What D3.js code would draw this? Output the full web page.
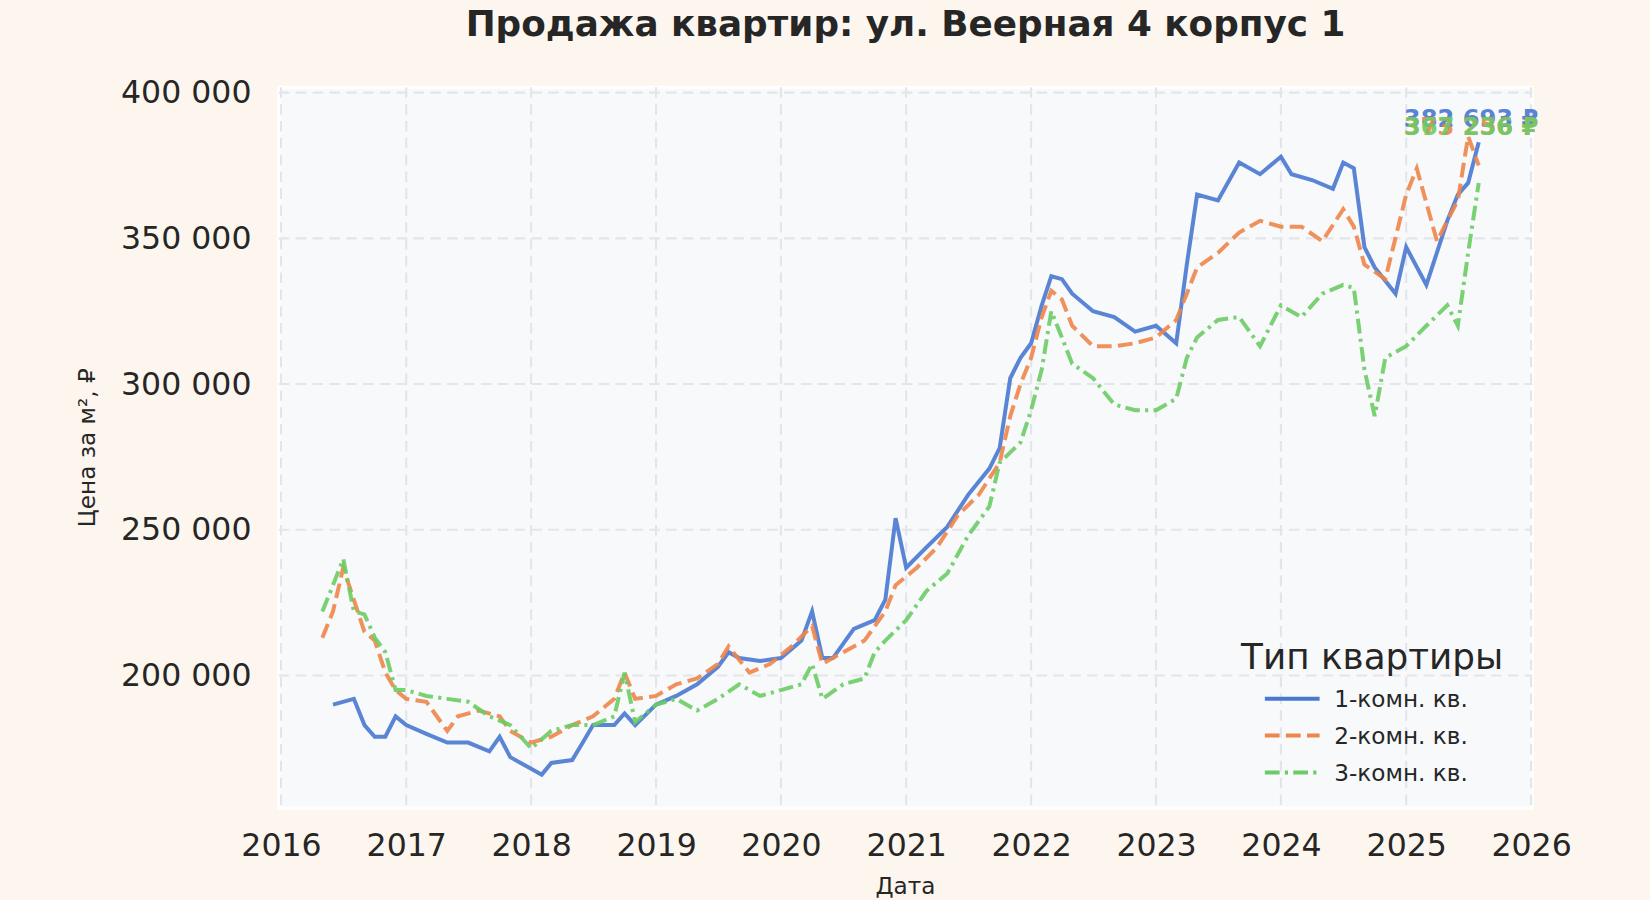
<!DOCTYPE html>
<html><head><meta charset="utf-8">
<script src="https://cdn.jsdelivr.net/npm/d3@7"></script>
<style>
body{margin:0;background:#fdf6ee;font-family:"DejaVu Sans",sans-serif;}
</style></head>
<body><div id="chart"></div>
<script>
// data, prices in thousands of rubles per m2
const dates1 = ["2016-06","2016-08","2016-09","2016-10","2016-11","2016-12","2017-01","2017-03","2017-05","2017-07","2017-09","2017-10","2017-11","2018-01","2018-02","2018-03","2018-05","2018-06","2018-07","2018-09","2018-10","2018-11","2019-01","2019-03","2019-05","2019-07","2019-08","2019-09","2019-11","2020-01","2020-03","2020-04","2020-05","2020-06","2020-08","2020-10","2020-11","2020-12","2021-01","2021-03","2021-05","2021-07","2021-09","2021-10","2021-11","2021-12","2022-01","2022-02","2022-03","2022-04","2022-05","2022-07","2022-09","2022-11","2023-01","2023-03","2023-04","2023-05","2023-07","2023-09","2023-11","2024-01","2024-02","2024-04","2024-06","2024-07","2024-08","2024-09","2024-10","2024-12","2025-01","2025-03","2025-05","2025-06","2025-07","2025-08"];
const values1 = [190,192,183,179,179,186,183,180,177,177,174,179,172,168,166,170,171,177,183,183,187,183,190,193,197,203,208,206,205,206,212,222,206,206,216,219,226,254,237,244,251,262,271,278,302,309,314,327,337,336,331,325,323,318,320,314,341,365,363,376,372,378,372,370,367,376,374,347,340,331,347,334,356,365,369,383];

const dates2 = ["2016-05","2016-06","2016-07","2016-08","2016-09","2016-10","2016-11","2016-12","2017-01","2017-03","2017-05","2017-06","2017-08","2017-10","2017-11","2018-01","2018-03","2018-05","2018-07","2018-09","2018-10","2018-11","2019-01","2019-03","2019-05","2019-07","2019-08","2019-10","2019-12","2020-02","2020-04","2020-05","2020-07","2020-09","2020-11","2020-12","2021-02","2021-04","2021-06","2021-08","2021-10","2021-11","2021-12","2022-01","2022-02","2022-03","2022-04","2022-05","2022-07","2022-09","2022-11","2023-01","2023-03","2023-04","2023-05","2023-07","2023-09","2023-11","2024-01","2024-03","2024-05","2024-07","2024-08","2024-09","2024-11","2025-01","2025-02","2025-04","2025-05","2025-06","2025-07","2025-08"];
const values2 = [213,222,237,226,215,212,201,195,192,191,181,186,188,186,181,177,179,183,186,192,201,192,193,197,199,204,210,201,204,210,217,204,208,212,222,231,237,244,255,262,273,289,300,309,323,332,329,320,313,313,314,316,322,331,340,345,352,356,354,354,349,360,354,341,336,365,374,349,356,363,385,375];

const dates3 = ["2016-05","2016-06","2016-07","2016-08","2016-09","2016-10","2016-11","2016-12","2017-01","2017-03","2017-05","2017-07","2017-09","2017-11","2018-01","2018-03","2018-05","2018-07","2018-09","2018-10","2018-11","2019-01","2019-03","2019-05","2019-07","2019-09","2019-11","2020-01","2020-03","2020-04","2020-05","2020-07","2020-09","2020-10","2020-11","2021-01","2021-03","2021-05","2021-07","2021-09","2021-10","2021-12","2022-01","2022-02","2022-03","2022-04","2022-05","2022-07","2022-09","2022-11","2023-01","2023-03","2023-04","2023-05","2023-07","2023-09","2023-11","2024-01","2024-03","2024-05","2024-07","2024-08","2024-09","2024-10","2024-11","2025-01","2025-03","2025-05","2025-06","2025-07","2025-08"];
const values3 = [222,231,240,222,221,213,208,195,195,193,192,191,186,183,175,181,183,183,186,201,184,190,192,188,192,197,193,195,197,204,192,197,199,208,212,219,229,235,248,258,273,280,291,305,325,316,307,302,293,291,291,295,309,316,322,323,313,327,323,331,334,333,305,289,309,313,320,327,320,345,369];

const seriesNames = ["1-комн. кв.","2-комн. кв.","3-комн. кв."];
const endLabels = ["382 693 ₽","373 256 ₽","367 236 ₽"];
const yTicks = [200000,250000,300000,350000,400000];

const colors = ["#4878d0","#ee854a","#6acc64"];
const dashes = [null,"14,6","14,5,3,5"];

// layout measured on a 1568-wide view, scaled up to 1650
const k = 1650/1568;
const W = 1568, H = 855;
const m = {left:265, right:112, top:83, bottom:87};
const svg = d3.select("#chart").append("svg").attr("width",1650).attr("height",900)
  .append("g").attr("transform","scale("+k+")");

const parse = d3.timeParse("%Y-%m");
const series = [[dates1,values1],[dates2,values2],[dates3,values3]].map(function(s){
  return s[0].map((d,i) => ({date: parse(d), v: s[1][i]*1000}));
});

const x = d3.scaleTime().domain([new Date(2016,0,1), new Date(2026,0,1)]).range([m.left+2, W-m.right-1]);
const y = d3.scaleLinear().domain([154500, 401800]).range([H-m.bottom, m.top]);

// plot background
svg.append("rect").attr("x",m.left).attr("y",m.top)
  .attr("width",W-m.left-m.right).attr("height",H-m.top-m.bottom)
  .attr("fill","#f8f9fb").attr("stroke","#ffffff").attr("stroke-width",3);

const fmt = v => d3.format(",")(v).replace(/,/g," ");
const years = d3.range(2016,2027).map(yr => new Date(yr,0,1));

// grid
svg.append("g").selectAll("line").data(years).enter().append("line")
  .attr("x1",d=>x(d)).attr("x2",d=>x(d)).attr("y1",m.top).attr("y2",H-m.bottom)
  .attr("stroke","#e3e5ea").attr("stroke-width",2).attr("stroke-dasharray","10,6");
svg.append("g").selectAll("line").data(yTicks).enter().append("line")
  .attr("x1",m.left).attr("x2",W-m.right).attr("y1",d=>y(d)).attr("y2",d=>y(d))
  .attr("stroke","#e3e5ea").attr("stroke-width",2).attr("stroke-dasharray","10,6");

// axes
const xAxis = svg.append("g").attr("transform","translate(0,"+(H-m.bottom)+")")
  .call(d3.axisBottom(x).tickValues(years).tickFormat(d3.timeFormat("%Y")).tickSize(0).tickPadding(24));
const yAxis = svg.append("g").attr("transform","translate("+m.left+",0)")
  .call(d3.axisLeft(y).tickValues(yTicks).tickFormat(fmt).tickSize(0).tickPadding(26));
[xAxis,yAxis].forEach(function(a){
  a.select(".domain").remove();
  a.selectAll("text").attr("font-size",30).attr("fill","#262626").attr("font-family","DejaVu Sans");
});

// lines
const line = d3.line().x(d=>x(d.date)).y(d=>y(d.v));
series.forEach(function(s,i){
  svg.append("path").datum(s).attr("d",line).attr("fill","none")
    .attr("stroke",colors[i]).attr("stroke-width",3.8).attr("stroke-opacity",0.9)
    .attr("stroke-dasharray",dashes[i]);
});

// end labels (overlapping, as in the source chart)
[0,1,2].forEach(function(i){
  svg.append("text").attr("x",W-m.right+6).attr("y", i==0 ? 121 : 128)
    .attr("text-anchor","end").attr("font-size",23).attr("font-weight","bold")
    .attr("fill",colors[i]).attr("opacity",0.9).text(endLabels[i]);
});

// titles
svg.append("text").attr("x",(m.left+W-m.right)/2).attr("y",34).attr("text-anchor","middle")
  .attr("font-size",34).attr("font-weight","bold").attr("fill","#262626")
  .text("Продажа квартир: ул. Веерная 4 корпус 1");
svg.append("text").attr("x",(m.left+W-m.right)/2).attr("y",850).attr("text-anchor","middle")
  .attr("font-size",22).attr("fill","#262626").text("Дата");
svg.append("text").attr("transform","translate(90,"+((m.top+H-m.bottom)/2)+") rotate(-90)")
  .attr("text-anchor","middle").attr("font-size",22).attr("fill","#262626").text("Цена за м², ₽");

// legend
const lg = svg.append("g").attr("transform","translate(1200,0)");
lg.append("text").attr("x",104).attr("y",636).attr("text-anchor","middle")
  .attr("font-size",34).attr("fill","#262626").text("Тип квартиры");
seriesNames.forEach(function(n,i){
  const yy = 664 + i*35;
  lg.append("line").attr("x1",2).attr("x2",54).attr("y1",yy).attr("y2",yy)
    .attr("stroke",colors[i]).attr("stroke-width",3.8).attr("stroke-dasharray",dashes[i]);
  lg.append("text").attr("x",68).attr("y",yy+8).attr("font-size",22).attr("fill","#262626").text(n);
});
</script></body></html>
